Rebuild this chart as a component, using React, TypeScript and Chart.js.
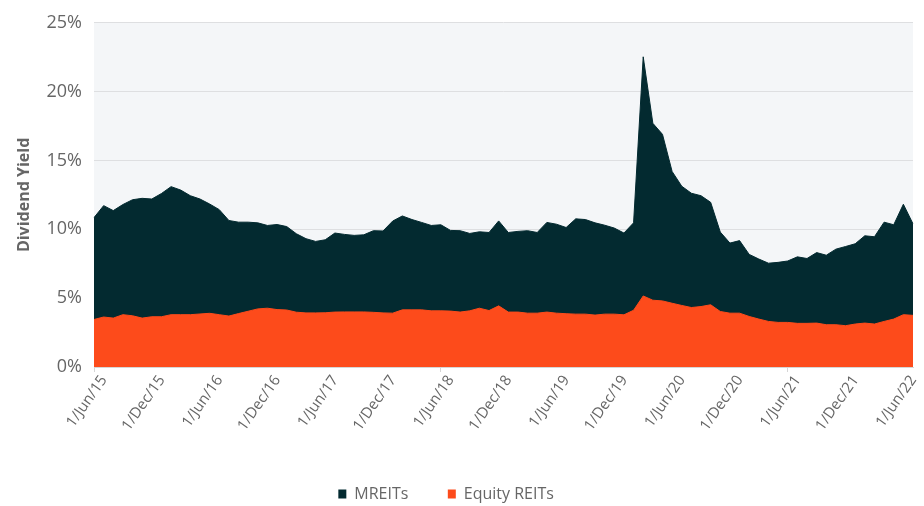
import React, { useEffect, useRef } from "react";
import { Chart, registerables } from "chart.js";

Chart.register(...registerables);

const MONTHS = ["Jan", "Feb", "Mar", "Apr", "May", "Jun", "Jul", "Aug", "Sep", "Oct", "Nov", "Dec"];
const START_MONTH = 5; // Jun
const START_YEAR = 15;
const POINT_COUNT = 86; // Jun 2015 .. Jul 2022

const mreits = [
  10.85, 11.72, 11.36, 11.8, 12.15, 12.25, 12.2, 12.6, 13.1, 12.85,
  12.44, 12.2, 11.84, 11.43, 10.64, 10.52, 10.52, 10.47, 10.28, 10.35,
  10.2, 9.68, 9.32, 9.12, 9.24, 9.73, 9.63, 9.56, 9.6, 9.9,
  9.88, 10.6, 10.97, 10.71, 10.5, 10.28, 10.33, 9.92, 9.9, 9.7,
  9.82, 9.77, 10.61, 9.77, 9.85, 9.9, 9.77, 10.5, 10.37, 10.13,
  10.76, 10.71, 10.47, 10.3, 10.09, 9.73, 10.47, 22.53, 17.7, 16.9,
  14.2, 13.13, 12.62, 12.44, 11.96, 9.8, 9.0, 9.18, 8.18, 7.84,
  7.54, 7.6, 7.7, 8.0, 7.88, 8.31, 8.12, 8.56, 8.75, 8.95,
  9.53, 9.46, 10.52, 10.33, 11.82, 10.4,
];

const equityReits = [
  3.45, 3.63, 3.55, 3.8, 3.72, 3.55, 3.65, 3.65, 3.8, 3.8,
  3.8, 3.85, 3.9, 3.8, 3.7, 3.88, 4.05, 4.22, 4.27, 4.17,
  4.14, 3.98, 3.93, 3.93, 3.94, 3.99, 4.0, 4.0, 4.0, 3.97,
  3.93, 3.91, 4.15, 4.15, 4.15, 4.08, 4.08, 4.06, 3.99, 4.08,
  4.27, 4.1, 4.44, 3.99, 3.99, 3.91, 3.91, 3.99, 3.91, 3.87,
  3.84, 3.84, 3.77, 3.84, 3.84, 3.79, 4.12, 5.16, 4.85, 4.8,
  4.63, 4.47, 4.32, 4.39, 4.52, 4.03, 3.91, 3.91, 3.67, 3.48,
  3.31, 3.24, 3.24, 3.17, 3.17, 3.19, 3.07, 3.07, 3.0, 3.12,
  3.19, 3.12, 3.31, 3.48, 3.8, 3.75,
];

const yTicks = [0, 5, 10, 15, 20, 25];

const labels: string[] = [];
for (let i = 0; i < POINT_COUNT; i++) {
  const m = (START_MONTH + i) % 12;
  const y = START_YEAR + Math.floor((START_MONTH + i) / 12);
  labels.push(`1/${MONTHS[m]}/${y}`);
}

const DARK = "#032a30";
const ORANGE = "#fd4b1b";
const FONT = "'Open Sans', sans-serif";
const TEXT = "#666666";

const bgPlugin = {
  id: "plotBg",
  beforeDraw(chart: any) {
    const { ctx, chartArea } = chart;
    if (!chartArea) return;
    ctx.save();
    ctx.fillStyle = "#f4f6f8";
    ctx.fillRect(chartArea.left, chartArea.top, chartArea.right - chartArea.left, chartArea.bottom - chartArea.top);
    ctx.restore();
  },
};

export default function App() {
  const ref = useRef<HTMLCanvasElement | null>(null);

  useEffect(() => {
    if (!ref.current) return;
    const chart = new Chart(ref.current, {
      type: "line",
      data: {
        labels,
        datasets: [
          {
            label: "MREITs",
            data: mreits,
            borderColor: DARK,
            backgroundColor: DARK,
            borderWidth: 1,
            pointRadius: 0,
            fill: "origin",
            tension: 0,
            order: 2,
          },
          {
            label: "Equity REITs",
            data: equityReits,
            borderColor: ORANGE,
            backgroundColor: ORANGE,
            borderWidth: 1,
            pointRadius: 0,
            fill: "origin",
            tension: 0,
            order: 1,
          },
        ],
      },
      plugins: [bgPlugin],
      options: {
        animation: false,
        responsive: false,
        layout: { padding: { left: 0, right: 11, top: 19, bottom: -6 } },
        plugins: {
          tooltip: { enabled: false },
          legend: {
            position: "bottom",
            labels: {
              generateLabels: (c: any) => {
                const items = Chart.defaults.plugins.legend.labels.generateLabels(c);
                items.sort((a: any, b: any) => a.datasetIndex - b.datasetIndex);
                return items.map((it: any, idx: number) => ({
                  ...it,
                  lineWidth: 0,
                  text: idx === 0 ? it.text + "         " : it.text + "     ",
                }));
              },
              boxWidth: 8,
              boxHeight: 9,
              padding: 2,
              color: TEXT,
              font: { family: FONT, size: 16 },
            },
          },
        },
        scales: {
          x: {
            type: "category",
            offset: false,
            afterFit: (s: any) => {
              s.height = 117;
            },
            grid: {
              drawOnChartArea: false,
              drawTicks: true,
              tickLength: 5,
              color: (ctx: any) => (ctx.index % 6 === 0 ? "#d6d6d6" : "rgba(0,0,0,0)"),
            },
            border: { display: true, color: "#d6d6d6" },
            ticks: {
              autoSkip: false,
              maxRotation: 55,
              minRotation: 55,
              padding: 0,
              labelOffset: 10,
              color: TEXT,
              font: { family: FONT, size: 15 },
              callback: (_v: any, i: number) => (i % 6 === 0 ? labels[i] : null),
            },
          },
          y: {
            min: yTicks[0],
            max: yTicks[yTicks.length - 1],
            afterFit: (s: any) => {
              s.width = 94;
            },
            grid: { color: "#dedfe1", drawTicks: false },
            border: { display: false },
            ticks: {
              stepSize: 5,
              padding: 12,
              color: TEXT,
              font: { family: FONT, size: 18 },
              callback: (v: any) => `${v}%`,
            },
            title: {
              display: true,
              text: "Dividend Yield",
              color: TEXT,
              font: { family: FONT, size: 16, weight: "bold" },
              padding: { top: 15, bottom: 0 },
            },
          },
        },
      },
    });
    return () => chart.destroy();
  }, []);

  return (
    <canvas
      ref={ref}
      width={924}
      height={506}
      style={{ position: "absolute", left: 0, top: 0, width: 924, height: 506, display: "block" }}
    />
  );
}
